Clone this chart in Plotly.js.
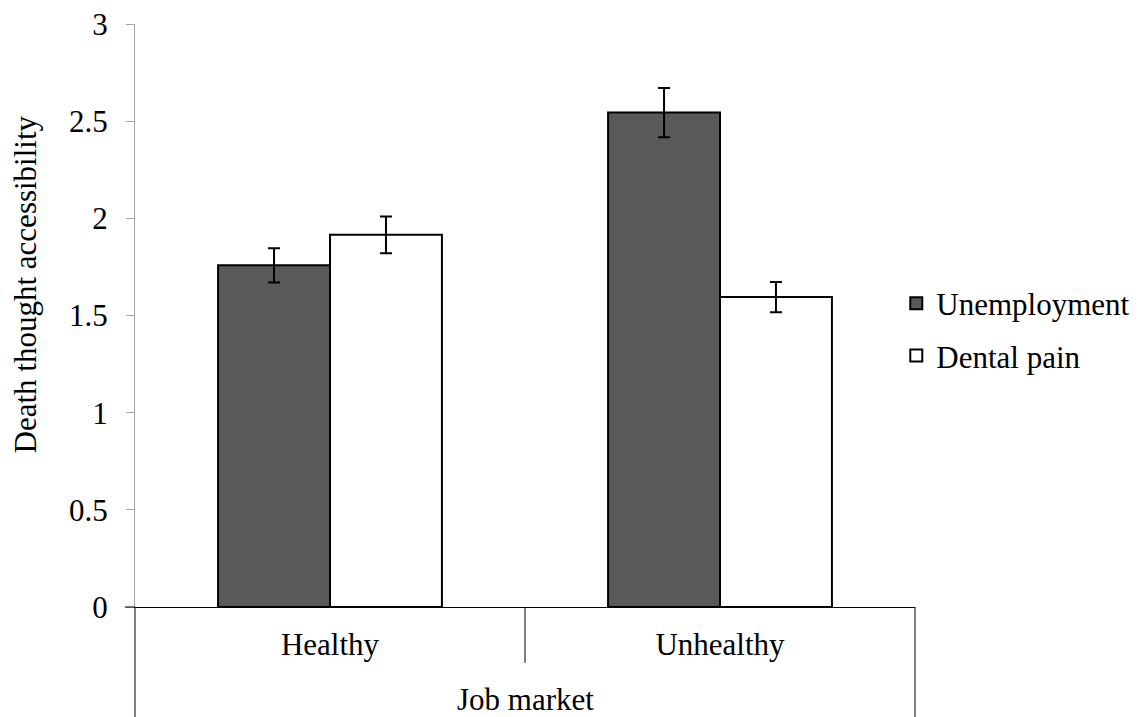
<!DOCTYPE html>
<html>
<head>
<meta charset="utf-8">
<script src="https://cdn.plot.ly/plotly-3.0.1.min.js"></script>
<style>html,body{margin:0;padding:0;background:#fff;}#chart{width:1140px;height:717px;}</style>
</head>
<body>
<div id="chart"></div>
<script>
var categories = ["Healthy", "Unhealthy"];
var unemployment = [1.758, 2.544];
var unemploymentErr = [0.088, 0.127];
var dentalPain = [1.915, 1.595];
var dentalPainErr = [0.095, 0.078];
var yTicks = [0, 0.5, 1, 1.5, 2, 2.5, 3];
var yTickLabels = ["0", "0.5", "1", "1.5", "2", "2.5", "3"];

var FONT = "Liberation Serif, Times New Roman, serif";

var traces = [
  {
    type: "bar", name: "Unemployment", x: categories, y: unemployment, legendgroup: "a",
    marker: {color: "#595959", line: {color: "#000000", width: 2}},
    error_y: {type: "data", array: unemploymentErr, visible: true, color: "#000000", thickness: 2, width: 6}
  },
  {
    type: "bar", name: "Dental pain", x: categories, y: dentalPain, legendgroup: "b",
    marker: {color: "#ffffff", line: {color: "#000000", width: 2}},
    error_y: {type: "data", array: dentalPainErr, visible: true, color: "#000000", thickness: 2, width: 6}
  }
];

var layout = {
  width: 1140, height: 717,
  margin: {l: 135, r: 225, t: 24, b: 110, pad: 0, autoexpand: false},
  paper_bgcolor: "#ffffff", plot_bgcolor: "#ffffff",
  font: {family: FONT, size: 31, color: "#000000"},
  barmode: "group", bargap: 0.426, bargroupgap: 0,
  showlegend: true,
  legend: {x: 0.976, xanchor: "left", y: 0.476, yanchor: "middle", font: {family: FONT, size: 31, color: "#000000"}, bgcolor: "rgba(0,0,0,0)", traceorder: "grouped", tracegroupgap: 9},
  xaxis: {
    type: "category", range: [-0.5, 1.5], showgrid: false, zeroline: false,
    showline: true, linecolor: "#000000", linewidth: 1,
    ticks: "", ticklabelstandoff: 10, tickfont: {family: FONT, size: 31, color: "#000000"}
  },
  yaxis: {
    range: [0, 3], tickmode: "array", tickvals: yTicks, ticktext: yTickLabels,
    showgrid: false, zeroline: false, showline: true, linecolor: "#a6a6a6", linewidth: 1,
    ticks: "outside", ticklen: 8, tickcolor: "#a6a6a6", tickwidth: 1,
    ticklabelstandoff: 12, tickfont: {family: FONT, size: 31, color: "#000000"}
  },
  shapes: [
    {type: "line", xref: "paper", yref: "paper", x0: 0, x1: 0, y0: 0, y1: -0.19, line: {color: "#000000", width: 1}},
    {type: "line", xref: "paper", yref: "paper", x0: 0.5, x1: 0.5, y0: 0, y1: -0.096, line: {color: "#000000", width: 1}},
    {type: "line", xref: "paper", yref: "paper", x0: 1, x1: 1, y0: 0, y1: -0.19, line: {color: "#000000", width: 1}},
    {type: "line", xref: "paper", yref: "paper", x0: -0.013, x1: 0, y0: 0, y1: 0, line: {color: "#000000", width: 1}}
  ],
  annotations: [
    {text: "Job market", xref: "paper", yref: "paper", x: 0.5, y: -0.158, xanchor: "center", yanchor: "middle", showarrow: false, font: {family: FONT, size: 31, color: "#000000"}},
    {text: "Death thought accessibility", xref: "paper", yref: "paper", x: -0.14, y: 0.553, xanchor: "center", yanchor: "middle", textangle: -90, showarrow: false, font: {family: FONT, size: 31, color: "#000000"}}
  ]
};

Plotly.newPlot("chart", traces, layout, {displayModeBar: false, staticPlot: true});
</script>
</body>
</html>
